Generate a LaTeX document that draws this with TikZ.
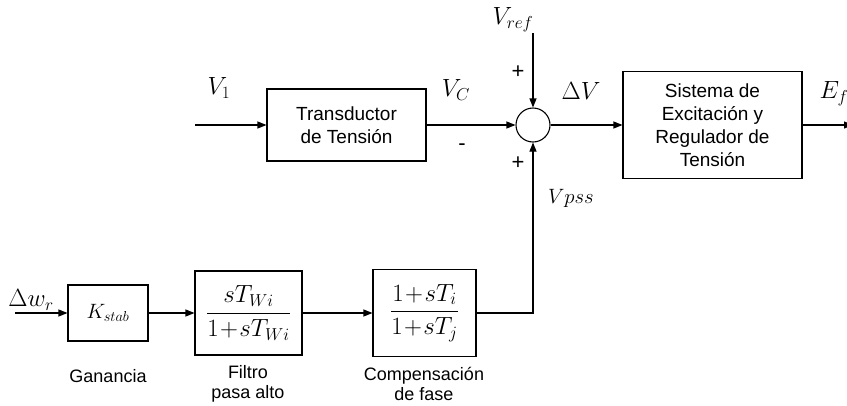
\documentclass[tikz,border=0pt]{standalone}
\usepackage{amsmath}
\usepackage{fontspec}
\setmainfont{Liberation Sans}
\usetikzlibrary{arrows.meta}
\newcommand{\tplus}{\mkern1mu{+}\mkern1mu}
\begin{document}
\begin{tikzpicture}[x=1pt,y=-1pt,
  line width=1.1pt,
  blk/.style={draw,rectangle,inner sep=0pt,align=center,font=\fontsize{19}{23}\selectfont},
  mblk/.style={draw,rectangle,inner sep=0pt,align=center,font=\fontsize{25}{29}\selectfont},
  lbl/.style={inner sep=0pt,align=center,font=\fontsize{18}{20}\selectfont},
  sgn/.style={inner sep=0pt,font=\fontsize{22}{24}\selectfont},
  mlbl/.style={inner sep=0pt,font=\fontsize{25}{29}\selectfont},
  arr/.style={-{Triangle[length=9pt,width=7pt]}}]
\useasboundingbox (0,0) rectangle (847,405);
% blocks
\node[blk,minimum width=159,minimum height=72] (trans) at (346.5,125) {Transductor\\de Tensión};
\node[draw,circle,minimum size=34,inner sep=0pt] (sum) at (533,125) {};
\node[blk,minimum width=179,minimum height=107] (sys) at (712.5,125) {Sistema de\\Excitación y\\Regulador de\\Tensión};
\node[blk,minimum width=80,minimum height=56,font=\fontsize{22}{25}\selectfont] (kst) at (108,313) {$K_{stab}$};
\node[mblk,minimum width=107,minimum height=84] (fil) at (248.5,313) {$\dfrac{sT_{Wi}}{1\tplus sT_{Wi}}$};
\node[mblk,minimum width=103,minimum height=87] (comp) at (424.5,313) {$\dfrac{1\tplus sT_i}{1\tplus sT_j}$};
% free ends
\coordinate (in1) at (195,125);
\coordinate (vref) at (533,33);
\coordinate (out) at (853,125);
\coordinate (inw) at (15,313);
% connectors
\draw[arr] (in1) -- (trans.west);
\draw[arr] (trans.east) -- (sum.west);
\draw[arr] (vref) -- (sum.north);
\draw[arr] (sum.east) -- (sys.west);
\draw[arr] (sys.east) -- (out);
\draw[arr] (inw) -- (kst.west);
\draw[arr] (kst.east) -- (fil.west);
\draw[arr] (fil.east) -- (comp.west);
\draw[arr] (comp.east) -| (sum.south);
% signal labels
\node[mlbl] (lv1) at (219,88) {$V_1$};
\node[mlbl] (lvc) at (456,90) {$V_C$};
\node[mlbl] (lvref) at (513,20) {$V_{ref}$};
\node[mlbl] (ldv) at (581,91) {$\Delta V$};
\node[mlbl,anchor=west] (lefd) at (819,94) {$E_{fd}$};
\node[mlbl,font=\fontsize{22}{26}\selectfont] (lvpss) at (571,198) {$Vpss$};
\node[mlbl] (ldw) at (31,300) {$\Delta w_r$};
% signs
\node[sgn] (pl1) at (518,72) {+};
\node[sgn] (mi1) at (462,147) {-};
\node[sgn] (pl2) at (518,163) {+};
% captions
\node[lbl] (cg) at (108,376) {Ganancia};
\node[lbl] (cf) at (248,384) {Filtro\\pasa alto};
\node[lbl] (cc) at (424,384) {Compensación\\de fase};
\end{tikzpicture}
\end{document}
